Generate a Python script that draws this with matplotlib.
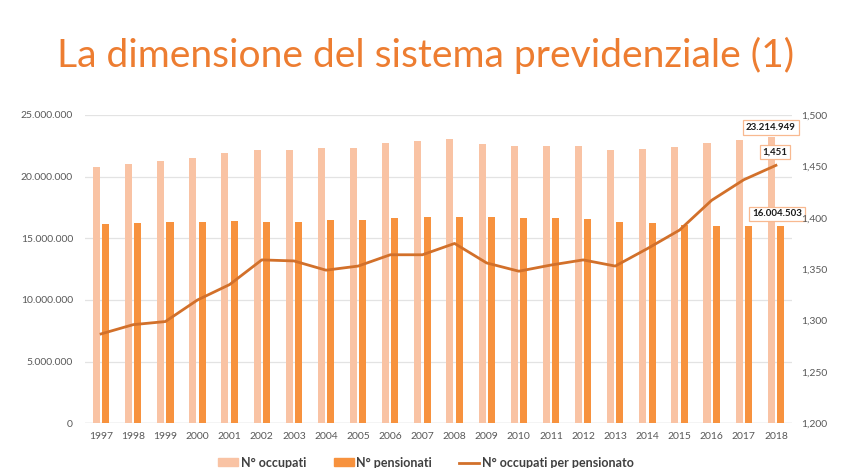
import matplotlib
matplotlib.use("Agg")
import matplotlib.pyplot as plt
from matplotlib.ticker import FuncFormatter, MultipleLocator
from matplotlib.lines import Line2D
from matplotlib.patches import Patch
import numpy as np

years = ["1997", "1998", "1999", "2000", "2001", "2002", "2003", "2004", "2005", "2006", "2007",
         "2008", "2009", "2010", "2011", "2012", "2013", "2014", "2015", "2016", "2017", "2018"]
occupati = [20.81e6, 21.00e6, 21.25e6, 21.54e6, 21.92e6, 22.19e6, 22.19e6, 22.30e6, 22.35e6, 22.73e6, 22.90e6,
            23.05e6, 22.62e6, 22.46e6, 22.51e6, 22.51e6, 22.14e6, 22.24e6, 22.43e6, 22.73e6, 22.95e6, 23214949]
pensionati = [16.16e6, 16.22e6, 16.30e6, 16.35e6, 16.40e6, 16.30e6, 16.30e6, 16.49e6, 16.49e6, 16.65e6, 16.74e6,
              16.75e6, 16.70e6, 16.65e6, 16.65e6, 16.54e6, 16.35e6, 16.22e6, 16.10e6, 16.03e6, 16.03e6, 16004503]
rapporto = [1.287, 1.296, 1.299, 1.320, 1.335, 1.359, 1.358, 1.349, 1.353, 1.364, 1.364,
            1.375, 1.356, 1.348, 1.354, 1.359, 1.353, 1.370, 1.388, 1.417, 1.437, 1.451]
labels_series = ["N° occupati", "N° pensionati", "N° occupati per pensionato"]
title = "La dimensione del sistema previdenziale (1)"

c_light = "#F9C3A4"
c_dark = "#F7923E"
c_line = "#D2702A"
c_grid = "#E3E3E3"
c_tick = "#595959"

plt.rcParams["font.family"] = ["Lato", "DejaVu Sans"]

fig = plt.figure(figsize=(8.5, 4.68), dpi=100)
ax = fig.add_axes([85/850, 1-423.3/468, (792-85)/850, (423.3-115)/468])
ax2 = ax.twinx()

x = np.arange(len(years))
w = 0.22
off = 0.145
ax.bar(x - off, occupati, width=w, color=c_light, zorder=2)
ax.bar(x + off, pensionati, width=w, color=c_dark, zorder=2)
ax2.plot(x, rapporto, color=c_line, lw=2, zorder=3)

ax.set_xlim(-0.5, len(years) - 0.5)
ax.set_ylim(0, 25e6)
ax2.set_ylim(1.2, 1.5)
ax.yaxis.set_major_locator(MultipleLocator(5e6))
ax2.yaxis.set_major_locator(MultipleLocator(0.05))
ax.yaxis.set_major_formatter(FuncFormatter(lambda v, p: f"{int(round(v)):,}".replace(",", ".")))
ax2.yaxis.set_major_formatter(FuncFormatter(lambda v, p: f"{v:.3f}".replace(".", ",")))
ax.set_xticks(x)
ax.set_xticklabels(years)

for a in (ax, ax2):
    for s in a.spines.values():
        s.set_visible(False)
    a.tick_params(length=0, labelsize=7.5, colors=c_tick)
ax.tick_params(axis="y", pad=8.6)
ax2.tick_params(axis="y", pad=6.5)
ax.tick_params(axis="x", pad=6.5)
ax.grid(axis="y", color=c_grid, lw=0.9, zorder=0)
ax.set_axisbelow(True)
ax.axhline(0, color="#D9D9D9", lw=1, zorder=1)

box = dict(boxstyle="square,pad=0.3", fc="white", ec="#F8B990", lw=0.9)
last = len(years) - 1
ax.annotate(f"{occupati[-1]:,}".replace(",", "."), (last - 0.155, occupati[-1]), xytext=(0, 6.7),
            textcoords="offset points", ha="center", va="center", fontsize=7, fontweight="bold",
            color="#1a1a1a", bbox=box, zorder=5)
ax.annotate(f"{pensionati[-1]:,}".replace(",", "."), (last + 0.03, pensionati[-1]), xytext=(0, 8.6),
            textcoords="offset points", ha="center", va="center", fontsize=7, fontweight="bold",
            color="#1a1a1a", bbox=box, zorder=5)
ax2.annotate(f"{rapporto[-1]:.3f}".replace(".", ","), (last - 0.03, rapporto[-1]), xytext=(0, 9.6),
             textcoords="offset points", ha="center", va="center", fontsize=7, fontweight="bold",
             color="#1a1a1a", bbox=box, zorder=5)

fig.text(57/850, 1-67.5/468, title, fontsize=28.1, color="#ED7D31", fontweight="normal",
         ha="left", va="baseline")

handles = [Patch(color=c_light), Patch(color=c_dark), Line2D([], [], color=c_line, lw=2)]
fig.legend(handles, labels_series, loc="center", bbox_to_anchor=(426/850, 1-462.7/468),
           ncol=3, frameon=False, prop={"size": 9, "weight": "bold"}, labelcolor="#404040",
           handlelength=1.6, handleheight=0.6, handletextpad=0.2, columnspacing=2.2)

fig.savefig("out.png", dpi=100)
